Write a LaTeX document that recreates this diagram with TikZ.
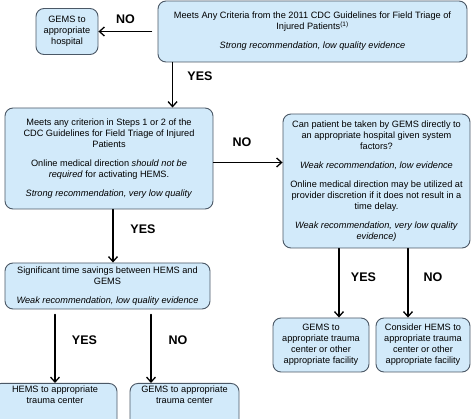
\documentclass[tikz,border=0pt]{standalone}
\usepackage{fontspec}
\setmainfont{Liberation Sans}
\usetikzlibrary{arrows.meta}
\definecolor{boxfill}{RGB}{210,234,250}
\definecolor{boxline}{RGB}{75,88,102}
\tikzset{
  box/.style={draw=boxline,fill=boxfill,line width=0.9pt,rounded corners=8pt,
    align=center,inner sep=2pt,font=\fontsize{9.2}{11}\selectfont},
  arr/.style={-{Straight Barb[length=5pt,width=9pt]},line width=1.3pt},
  lbl/.style={font=\fontsize{12.5}{14}\selectfont\bfseries},
}

\begin{document}
\begin{tikzpicture}[x=1pt,y=-1pt,line cap=round,line join=round]
  \useasboundingbox (0,0) rectangle (474,419);
  % decision boxes
  \node[box,minimum width=309,minimum height=61] (cdc) at (312.5,31.5)
    {Meets Any Criteria from the 2011 CDC Guidelines for Field Triage of\\
     Injured Patients\textsuperscript{(1)}\\[8pt]
     \textit{Strong recommendation, low quality evidence}};
  \node[box,minimum width=62,minimum height=46] (hosp) at (67,31.5)
    {GEMS to\\appropriate\\hospital};
  \node[box,minimum width=208,minimum height=101] (steps) at (109,158.5)
    {Meets any criterion in Steps 1 or 2 of the\\
     CDC Guidelines for Field Triage of Injured\\
     Patients\\[8pt]
     Online medical direction \textit{should not be}\\
     \textit{required} for activating HEMS.\\[8pt]
     \textit{Strong recommendation, very low quality}};
  \node[box,minimum width=187,minimum height=134] (direct) at (376.5,181)
    {Can patient be taken by GEMS directly to\\
     an appropriate hospital given system\\
     factors?\\[8pt]
     \textit{Weak recommendation, low evidence}\\[8pt]
     Online medical direction may be utilized at\\
     provider discretion if it does not result in a\\
     time delay.\\[8pt]
     \textit{Weak recommendation, very low quality}\\
     \textit{evidence)}};
  \node[box,minimum width=205,minimum height=46] (time) at (107.5,286)
    {Significant time savings between HEMS and\\
     GEMS\\[8pt]
     \textit{Weak recommendation, low quality evidence}};
  % end points
  \node[box,minimum width=96,minimum height=54] (gemsfac) at (321,345)
    {GEMS to\\appropriate trauma\\center or other\\appropriate facility};
  \node[box,minimum width=94,minimum height=54] (hemsfac) at (423,345)
    {Consider HEMS to\\appropriate trauma\\center or other\\appropriate facility};
  \node[box,minimum width=124,text depth=22pt,anchor=north] (hemstc) at (55,383)
    {HEMS to appropriate\\trauma center};
  \node[box,minimum width=109,text depth=22pt,anchor=north] (gemstc) at (184.5,383)
    {GEMS to appropriate\\trauma center};
  % connectors
  \draw[arr] ([xshift=-6pt]cdc.west |- hosp.east) -- (hosp.east);
  \draw[arr] ([xshift=15pt]cdc.south west) -- ([xshift=15pt]cdc.south west |- steps.north);
  \draw[arr] ([yshift=-4pt]steps.east) -- ([yshift=-4pt]steps.east -| direct.west);
  \draw[arr] ([xshift=4pt]steps.south) -- ([xshift=4pt]steps.south |- time.north);
  \draw[arr] ([yshift=-5pt]time.south -| hemstc.north) -- (hemstc.north);
  \draw[arr] ([xshift=-33.5pt,yshift=-5pt]time.south -| gemstc.north) -- ([xshift=-33.5pt]gemstc.north);
  \draw[arr] ([xshift=18pt]direct.south -| gemsfac.north) -- ([xshift=18pt]gemsfac.north);
  \draw[arr] ([xshift=-15pt]direct.south -| hemsfac.north) -- ([xshift=-15pt]hemsfac.north);
  % labels
  \node[lbl] (no1) at (125.5,19) {NO};
  \node[lbl] (yes1) at (200,76) {YES};
  \node[lbl] (no2) at (242,142) {NO};
  \node[lbl] (yes2) at (143,229) {YES};
  \node[lbl] (yes3) at (84.5,340) {YES};
  \node[lbl] (no3) at (178,340) {NO};
  \node[lbl] (yes4) at (363.5,277) {YES};
  \node[lbl] (no4) at (433,277) {NO};
\end{tikzpicture}
\end{document}
